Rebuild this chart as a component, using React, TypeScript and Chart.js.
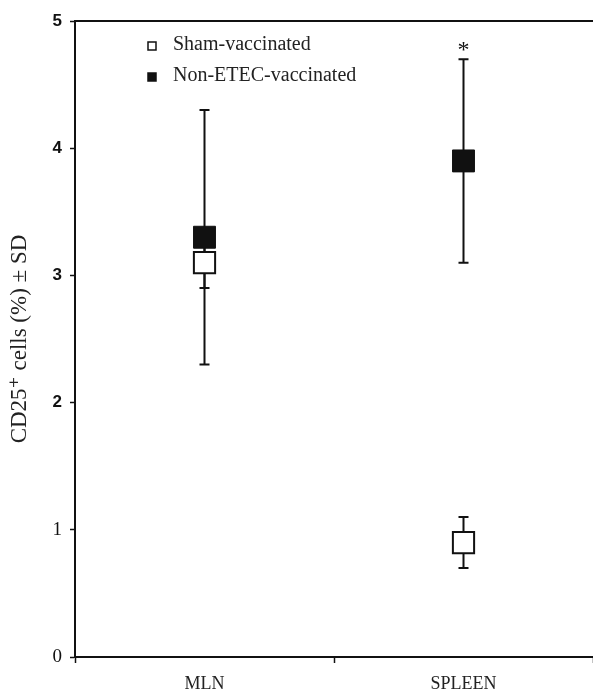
import React, { useEffect, useRef } from "react";
import { Chart, registerables } from "chart.js";

Chart.register(...registerables);

const categories = ["MLN", "SPLEEN"];
const seriesNames = ["Sham-vaccinated", "Non-ETEC-vaccinated"];
const shamMean = [3.1, 0.9];
const shamSD = [0.2, 0.2];
const nonEtecMean = [3.3, 3.9];
const nonEtecSD = [1.0, 0.8];
const significance = ["", "*"];
const yTicks = [0, 1, 2, 3, 4, 5];
const yTitle = "CD25\u207A cells (%) \u00B1 SD";

const SERIF = "'Liberation Serif', 'DejaVu Serif', serif";
const SANS = "'Liberation Sans', 'DejaVu Sans', sans-serif";

const errorBarPlugin = {
  id: "errorBars",
  beforeDatasetsDraw(chart: any) {
    const ctx = chart.ctx;
    const y = chart.scales.y;
    chart.data.datasets.forEach((ds: any, di: number) => {
      const meta = chart.getDatasetMeta(di);
      meta.data.forEach((pt: any, i: number) => {
        const m = ds.data[i];
        const sd = ds.sd[i];
        const x = pt.x;
        const top = y.getPixelForValue(m + sd);
        const bot = y.getPixelForValue(m - sd);
        ctx.save();
        ctx.strokeStyle = "#111";
        ctx.lineWidth = 2;
        ctx.beginPath();
        ctx.moveTo(x, top);
        ctx.lineTo(x, bot);
        ctx.moveTo(x - 5, top);
        ctx.lineTo(x + 5, top);
        ctx.moveTo(x - 5, bot);
        ctx.lineTo(x + 5, bot);
        ctx.stroke();
        ctx.restore();
      });
    });
  },
  afterDatasetsDraw(chart: any) {
    const ctx = chart.ctx;
    const y = chart.scales.y;
    const meta = chart.getDatasetMeta(1);
    const ds = chart.data.datasets[1];
    significance.forEach((s, i) => {
      if (!s) return;
      const pt = meta.data[i];
      const top = y.getPixelForValue(ds.data[i] + ds.sd[i]);
      ctx.save();
      ctx.fillStyle = "#111";
      ctx.font = `24px ${SERIF}`;
      ctx.textAlign = "center";
      ctx.textBaseline = "middle";
      ctx.fillText(s, pt.x, top - 8);
      ctx.restore();
    });
  },
  afterDraw(chart: any) {
    const ctx = chart.ctx;
    const a = chart.chartArea;
    ctx.save();
    // top frame line
    ctx.strokeStyle = "#111";
    ctx.lineWidth = 2;
    ctx.beginPath();
    ctx.moveTo(a.left, a.top);
    ctx.lineTo(a.right, a.top);
    ctx.stroke();
    // legend
    chart.data.datasets.forEach((ds: any, i: number) => {
      const cx = a.left + 77;
      const cy = a.top + 25 + i * 31;
      ctx.lineWidth = 1.5;
      ctx.strokeStyle = "#111";
      ctx.fillStyle = i === 0 ? "#fff" : "#111";
      ctx.fillRect(cx - 4, cy - 4, 8, 8);
      ctx.strokeRect(cx - 4, cy - 4, 8, 8);
      ctx.fillStyle = "#222";
      ctx.font = `20px ${SERIF}`;
      ctx.textAlign = "left";
      ctx.textBaseline = "middle";
      ctx.fillText(ds.label, a.left + 98, cy - 1);
    });
    ctx.restore();
  },
};

export default function App() {
  const ref = useRef<HTMLCanvasElement | null>(null);
  useEffect(() => {
    document.body.style.margin = "0";
    const canvas = ref.current!;
    const chart = new Chart(canvas, {
      type: "line",
      data: {
        labels: categories,
        datasets: [
          {
            label: seriesNames[0],
            data: shamMean,
            sd: shamSD,
            showLine: false,
            pointStyle: "rect",
            pointRadius: 15,
            pointHoverRadius: 15,
            pointBackgroundColor: "#fff",
            pointBorderColor: "#111",
            pointBorderWidth: 2,
          } as any,
          {
            label: seriesNames[1],
            data: nonEtecMean,
            sd: nonEtecSD,
            showLine: false,
            pointStyle: "rect",
            pointRadius: 15.5,
            pointHoverRadius: 15.5,
            pointBackgroundColor: "#111",
            pointBorderColor: "#111",
            pointBorderWidth: 1,
          } as any,
        ],
      },
      options: {
        responsive: false,
        animation: false,
        events: [],
        layout: {
          autoPadding: false,
          padding: { top: 21, right: 0, left: 0, bottom: 0 },
        },
        plugins: {
          legend: { display: false },
          tooltip: { enabled: false },
        },
        scales: {
          x: {
            type: "category",
            offset: true,
            grid: {
              offset: true,
              drawOnChartArea: false,
              drawTicks: true,
              tickLength: 6,
              tickColor: "#111",
              tickWidth: 1.5,
            },
            border: { display: true, color: "#111", width: 2 },
            ticks: {
              color: "#222",
              padding: 10,
              font: { family: SERIF, size: 18 },
              maxRotation: 0,
            },
            afterFit(scale: any) {
              scale.height = 34;
            },
          },
          y: {
            min: 0,
            max: 5,
            afterBuildTicks(scale: any) {
              scale.ticks = yTicks.map((v) => ({ value: v }));
            },
            grid: {
              drawOnChartArea: false,
              drawTicks: true,
              tickLength: 5,
              tickColor: "#111",
              tickWidth: 1.5,
            },
            border: { display: true, color: "#111", width: 2 },
            ticks: {
              color: "#111",
              padding: 8,
              font: (c: any) =>
                c.tick && c.tick.value >= 2
                  ? { family: SANS, size: 17, weight: "bold" }
                  : { family: SERIF, size: 19 },
            },
            title: {
              display: true,
              text: yTitle,
              color: "#222",
              font: { family: SERIF, size: 23 },
              padding: { top: 6, bottom: 0 },
            },
            afterFit(scale: any) {
              scale.width = 75;
            },
          },
        },
      } as any,
      plugins: [errorBarPlugin],
    });
    return () => chart.destroy();
  }, []);
  return (
    <canvas
      ref={ref}
      width={593}
      height={691}
      style={{ display: "block", width: 593, height: 691 }}
    />
  );
}
